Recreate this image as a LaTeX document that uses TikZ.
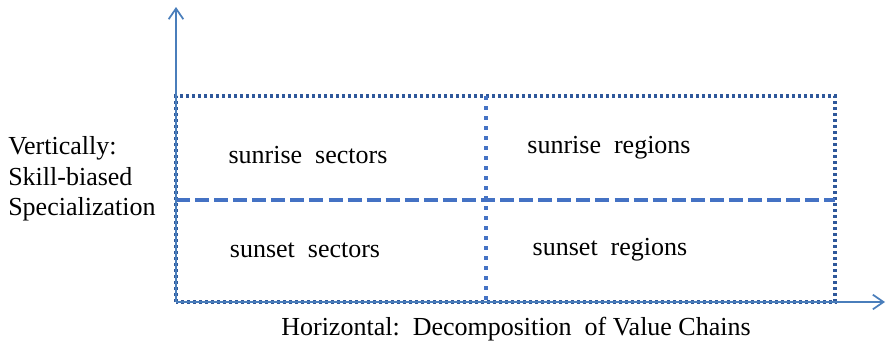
\documentclass[tikz,border=0pt]{standalone}
\usepackage{fontspec}
\setmainfont{Liberation Serif}
\usepackage{tikz}
\usetikzlibrary{arrows.meta}
\definecolor{axisblue}{RGB}{74,126,187}
\definecolor{gridblue}{RGB}{47,88,155}
\definecolor{midblue}{RGB}{68,114,196}
\tikzset{
  axisline/.style={draw=axisblue,line width=1.5pt,-{Straight Barb[length=8pt,width=11pt,line width=1.3pt]}},
  outerdots/.style={draw=gridblue,line width=2.4pt,dash pattern=on 2.4pt off 2.1pt},
  middots/.style={draw=midblue,line width=3.3pt,dash pattern=on 3.3pt off 4.2pt},
  middash/.style={draw=midblue,line width=2.6pt,dash pattern=on 10.5pt off 3.8pt},
  celltext/.style={inner sep=0pt,font=\fontsize{19.5}{23}\selectfont}
}

\begin{document}
\begin{tikzpicture}[x=0.75pt,y=-0.75pt]
\useasboundingbox (0,0) rectangle (886,354);
\coordinate (O) at (176,302);
\coordinate (ytop) at (176,7);
\coordinate (xend) at (885,302);
\coordinate (tl) at (176,96);
\coordinate (tr) at (835,96);
\coordinate (br) at (835,302);
\coordinate (mt) at (486,96);
\coordinate (mb) at (486,302);
\coordinate (ml) at (176,200);
\coordinate (mr) at (835,200);
% quadrant box
\draw[outerdots] (O) -- (tl) -- (tr) -- (br) -- cycle;
\draw[middots] (mt) -- (mb);
\draw[middash] (ml) -- (mr);
% axes
\draw[axisline] (O) -- (ytop);
\draw[axisline] (O) -- (xend);
\node[celltext] (rsec) at (308,155) {sunrise\ \ sectors};
\node[celltext] (rreg) at (609,148) {sunrise\ \ regions};
\node[celltext] (ssec) at (305,250) {sunset\ \ sectors};
\node[celltext] (sreg) at (610,250) {sunset\ \ regions};
\node[celltext,anchor=west,align=left] (vlab) at (8,179) {Vertically:\\Skill-biased\\Specialization};
\node[celltext] (hlab) at (516,329) {Horizontal:\ \ Decomposition\ \ of\ Value Chains};
\end{tikzpicture}
\end{document}
